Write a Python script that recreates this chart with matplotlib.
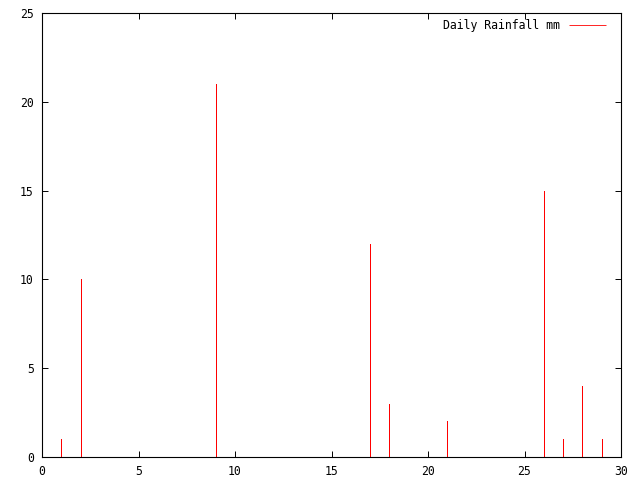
import matplotlib
matplotlib.use("Agg")
import matplotlib.pyplot as plt

# day of month and rainfall (mm)
days = [1, 2, 9, 17, 18, 21, 26, 27, 28, 29]
rain = [1, 10, 21, 12, 3, 2, 15, 1, 4, 1]

xticks = [0, 5, 10, 15, 20, 25, 30]
yticks = [0, 5, 10, 15, 20, 25]

plt.rcParams['font.family'] = ['DejaVu Sans Mono']

fig = plt.figure(figsize=(6.4, 4.8), dpi=100)
ax = fig.add_axes([42 / 640, 23 / 480, 579 / 640, 444 / 480])

ax.vlines(days, 0, rain, colors='red', linewidth=0.6, antialiased=False,
          label='Daily Rainfall mm')

ax.set_xlim(0, 30)
ax.set_ylim(0, 25)
ax.set_xticks(xticks)
ax.set_yticks(yticks)
ax.tick_params(direction='in', length=4.5, width=0.7, top=True, right=True,
               labelsize=8.3, pad=6)
for s in ax.spines.values():
    s.set_linewidth(0.8)

ax.legend(loc='upper right', frameon=False, markerfirst=False, fontsize=8.3,
          handlelength=3.2, borderaxespad=0.3,
          bbox_to_anchor=(1 - 7 / 579, 1 + 2 / 444))

fig.savefig('out.png', dpi=100)
